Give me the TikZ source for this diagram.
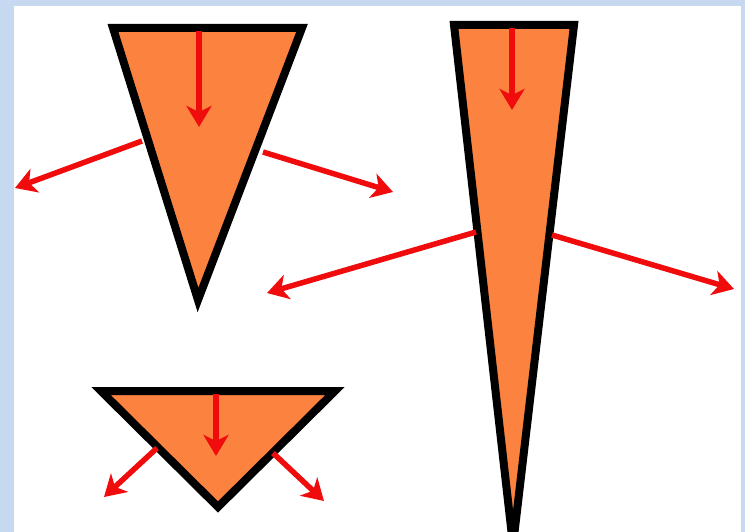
\documentclass[tikz,border=0pt]{standalone}
\usetikzlibrary{arrows.meta}
\definecolor{bgblue}{RGB}{198,217,240}
\definecolor{wedgefill}{RGB}{252,130,64}
\definecolor{forcered}{RGB}{240,12,12}
\tikzset{
  wedge/.style={draw=black, fill=wedgefill, line width=8pt, line join=miter},
  force/.style={draw=forcered, line width=5.5pt, -{Stealth[length=21pt,width=25pt,inset=6pt]}}
}
\begin{document}
\begin{tikzpicture}[x=1pt,y=-1pt]
\useasboundingbox (0,0) rectangle (745,532);
\fill[bgblue] (0,0) rectangle (745,532);
\fill[white] (14,6) rectangle (741,532);
\clip (0,0) rectangle (745,532);
% triangle 1
\coordinate (a1) at (113,28);
\coordinate (a2) at (302,28);
\coordinate (a3) at (198,300);
\draw[wedge] (a1) -- (a2) -- (a3) -- cycle;
% tall triangle
\coordinate (b1) at (454,25);
\coordinate (b2) at (574,25);
\coordinate (b3) at (513,545);
\draw[wedge] (b1) -- (b2) -- (b3) -- cycle;
% flat triangle
\coordinate (c1) at (101,391);
\coordinate (c2) at (335,391);
\coordinate (c3) at (218,507);
\draw[wedge] (c1) -- (c2) -- (c3) -- cycle;
% forces triangle 1
\coordinate (p1s) at (199,31);  \coordinate (p1e) at (199,127);
\coordinate (p2s) at (142,141); \coordinate (p2e) at (15,188);
\coordinate (p3s) at (263,152); \coordinate (p3e) at (393,192);
\draw[force] (p1s) -- (p1e);
\draw[force] (p2s) -- (p2e);
\draw[force] (p3s) -- (p3e);
% forces tall triangle
\coordinate (q1s) at (512,28);  \coordinate (q1e) at (512,110);
\coordinate (q2s) at (476,232); \coordinate (q2e) at (267,293);
\coordinate (q3s) at (552,235); \coordinate (q3e) at (734,289);
\draw[force] (q1s) -- (q1e);
\draw[force] (q2s) -- (q2e);
\draw[force] (q3s) -- (q3e);
% forces flat triangle
\coordinate (r1s) at (216,394); \coordinate (r1e) at (216,456);
\coordinate (r2s) at (157,448); \coordinate (r2e) at (104,497);
\coordinate (r3s) at (273,453); \coordinate (r3e) at (324,501);
\draw[force] (r1s) -- (r1e);
\draw[force] (r2s) -- (r2e);
\draw[force] (r3s) -- (r3e);
\end{tikzpicture}
\end{document}
